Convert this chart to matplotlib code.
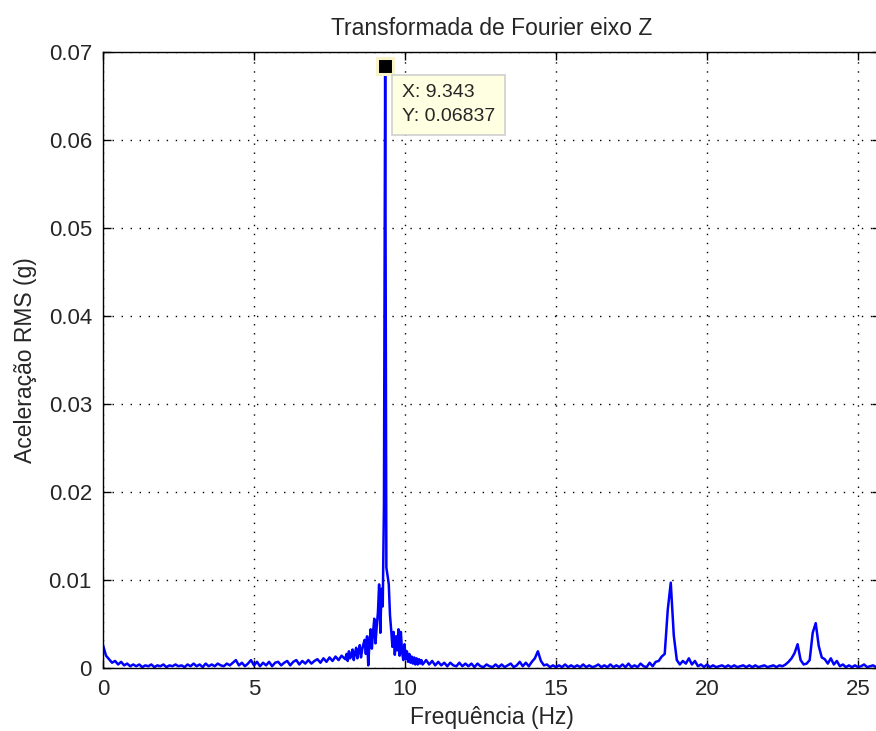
import numpy as np
import matplotlib.pyplot as plt

plt.rcParams['font.family'] = ['Liberation Sans', 'DejaVu Sans']

# spectrum values, in units of 1e-4 g
# low band: 0.0 .. 7.9 Hz, 0.1 Hz apart
f_low_start, f_low_step = 0.0, 0.1
amp_low = [26, 14, 10, 6, 8, 4, 7, 3, 5, 2,
           4, 2, 4, 1, 3, 2, 4, 1, 3, 2,
           4, 1, 3, 2, 4, 2, 3, 1, 4, 2,
           5, 2, 4, 1, 5, 2, 4, 2, 5, 3,
           2, 5, 3, 6, 9, 3, 6, 2, 5, 9,
           3, 7, 2, 6, 3, 7, 2, 6, 7, 3,
           6, 8, 3, 7, 9, 4, 8, 5, 9, 5,
           8, 10, 6, 11, 7, 12, 8, 13, 9, 14]

# resonance band: 8.023 .. 10.583 Hz, 0.04 Hz apart (peak bin at 9.343)
f_mid_start, f_mid_step = 8.023, 0.04
amp_mid = [10, 16, 8, 19, 11, 15, 21, 9, 17, 23,
           11, 19, 26, 12, 21, 27, 32, 16, 36, 3,
           29, 44, 22, 41, 56, 28, 47, 63, 95, 40,
           90, 70, 185, 683.7, 114, 105, 95, 60, 43, 24,
           41, 15, 36, 20, 44, 14, 41, 18, 9, 27,
           10, 19, 7, 16, 6, 13, 5, 12, 4, 11,
           4, 10, 5, 9, 4]

# high band: 10.7 .. 25.7 Hz, 0.1 Hz apart
f_high_start, f_high_step = 10.7, 0.1
amp_high = [9, 4, 8, 3, 7, 3, 6, 2, 6, 3,
            2, 6, 2, 5, 2, 5, 1, 5, 2, 1,
            4, 2, 1, 4, 1, 4, 1, 3, 5, 1,
            3, 7, 2, 6, 2, 7, 11, 19, 8, 3,
            4, 1, 3, 1, 3, 1, 4, 1, 3, 1,
            3, 1, 4, 1, 3, 1, 2, 4, 1, 3,
            1, 4, 1, 3, 1, 4, 1, 5, 1, 3,
            1, 5, 2, 1, 6, 2, 7, 8, 13, 16,
            66, 97, 37, 9, 4, 8, 5, 11, 4, 8,
            2, 4, 1, 4, 1, 3, 1, 2, 3, 1,
            3, 1, 3, 1, 2, 3, 1, 3, 1, 3,
            1, 2, 3, 1, 2, 3, 1, 3, 2, 4,
            7, 11, 17, 27, 9, 4, 5, 9, 40, 51,
            25, 12, 10, 5, 11, 4, 8, 2, 4, 1,
            3, 1, 3, 1, 2, 4, 1, 2, 3, 1, 2]

peak_x, peak_y = 9.343, 0.06837

f_low = f_low_start + f_low_step * np.arange(len(amp_low))
f_mid = f_mid_start + f_mid_step * np.arange(len(amp_mid))
f_high = f_high_start + f_high_step * np.arange(len(amp_high))
freq = np.concatenate([f_low, f_mid, f_high])
amp = np.concatenate([amp_low, amp_mid, amp_high]) * 1e-4

W, H = 876, 731
fig = plt.figure(figsize=(W / 100, H / 100), dpi=100)
ax = fig.add_axes([103 / W, 63 / H, 777 / W, 616 / H])

ax.plot(freq, amp, color=(0, 0, 1), lw=1.8)

ax.set_xlim(0, 777 / 30.2)
ax.set_ylim(0, 0.07)
ax.set_xticks([0, 5, 10, 15, 20, 25])
ax.set_xticklabels(['0', '5', '10', '15', '20', '25'])
ax.set_yticks([0, 0.01, 0.02, 0.03, 0.04, 0.05, 0.06, 0.07])
ax.set_yticklabels(['0', '0.01', '0.02', '0.03', '0.04', '0.05', '0.06', '0.07'])
ax.tick_params(direction='in', top=True, right=True, length=6, width=1,
               labelsize=16, pad=8, colors='black', labelcolor='#262626')
ax.grid(True, color='black', linestyle=(0, (1, 5.5)), linewidth=1)
for s in ax.spines.values():
    s.set_linewidth(1)

ax.set_title('Transformada de Fourier eixo Z', fontsize=16.5, pad=12, color='#262626')
ax.set_xlabel('Frequência (Hz)', fontsize=16.5, labelpad=4, color='#262626')
ax.set_ylabel('Aceleração RMS (g)', fontsize=16.5, labelpad=8, color='#262626')

# data tip
ax.plot([peak_x], [peak_y], marker='s', markersize=11, color='black',
        markeredgecolor='#F8F3C8', markeredgewidth=2.2, zorder=5, clip_on=False)
ax.annotate('X: %.3f\nY: %.5f' % (peak_x, peak_y), xy=(peak_x, peak_y),
            xytext=(17, -18), textcoords='offset pixels', ha='left', va='top',
            fontsize=14, color='#262626', linespacing=1.55, zorder=6,
            bbox=dict(boxstyle='square,pad=0.5', facecolor='#FFFFE1',
                      edgecolor='#CFCFCF', linewidth=1.2))

fig.savefig('out.png', dpi=100)
